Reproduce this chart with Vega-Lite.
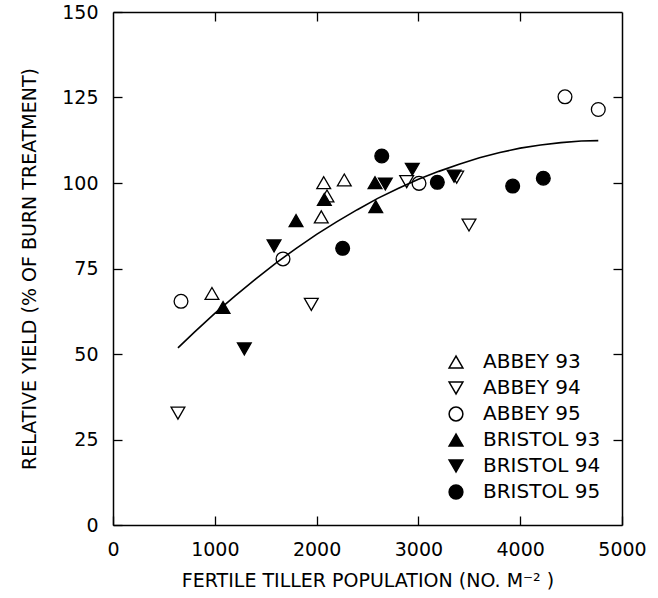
{
  "$schema": "https://vega.github.io/schema/vega-lite/v6.json",
  "width": 509,
  "height": 513,
  "autosize": {"type": "none"},
  "padding": {"left": 113, "top": 12, "right": 36, "bottom": 73},
  "background": "white",
  "config": {
    "view": {"stroke": null},
    "axis": {"domainColor": "black", "domainWidth": 1.5, "tickColor": "black", "tickWidth": 1.3, "labelColor": "black", "titleColor": "black", "labelFont": "DejaVu Sans", "titleFont": "DejaVu Sans", "grid": false}
  },
  "datasets": {
    "pts": [
      {"tillers": 972, "yield": 67.7, "series": "ABBEY 93"},
      {"tillers": 2070, "yield": 100.1, "series": "ABBEY 93"},
      {"tillers": 2272, "yield": 100.9, "series": "ABBEY 93"},
      {"tillers": 2046, "yield": 90.1, "series": "ABBEY 93"},
      {"tillers": 2102, "yield": 96.2, "series": "ABBEY 93"},
      {"tillers": 638, "yield": 32.7, "series": "ABBEY 94"},
      {"tillers": 1948, "yield": 64.5, "series": "ABBEY 94"},
      {"tillers": 2885, "yield": 100.4, "series": "ABBEY 94"},
      {"tillers": 3376, "yield": 101.7, "series": "ABBEY 94"},
      {"tillers": 3497, "yield": 87.7, "series": "ABBEY 94"},
      {"tillers": 668, "yield": 65.4, "series": "ABBEY 95"},
      {"tillers": 1670, "yield": 77.8, "series": "ABBEY 95"},
      {"tillers": 3006, "yield": 99.9, "series": "ABBEY 95"},
      {"tillers": 4440, "yield": 125.2, "series": "ABBEY 95"},
      {"tillers": 4767, "yield": 121.5, "series": "ABBEY 95"},
      {"tillers": 1081, "yield": 63.6, "series": "BRISTOL 93"},
      {"tillers": 1798, "yield": 89.0, "series": "BRISTOL 93"},
      {"tillers": 2076, "yield": 95.2, "series": "BRISTOL 93"},
      {"tillers": 2574, "yield": 100.1, "series": "BRISTOL 93"},
      {"tillers": 2581, "yield": 93.1, "series": "BRISTOL 93"},
      {"tillers": 1290, "yield": 51.5, "series": "BRISTOL 94"},
      {"tillers": 1582, "yield": 81.6, "series": "BRISTOL 94"},
      {"tillers": 2675, "yield": 99.7, "series": "BRISTOL 94"},
      {"tillers": 2940, "yield": 104.0, "series": "BRISTOL 94"},
      {"tillers": 3350, "yield": 102.0, "series": "BRISTOL 94"},
      {"tillers": 2256, "yield": 80.9, "series": "BRISTOL 95"},
      {"tillers": 2640, "yield": 107.9, "series": "BRISTOL 95"},
      {"tillers": 3186, "yield": 100.2, "series": "BRISTOL 95"},
      {"tillers": 3926, "yield": 99.1, "series": "BRISTOL 95"},
      {"tillers": 4227, "yield": 101.4, "series": "BRISTOL 95"}
    ],
    "curve": [
      {"tillers": 638, "yield": 51.8},
      {"tillers": 800, "yield": 56.4},
      {"tillers": 1000, "yield": 61.9},
      {"tillers": 1200, "yield": 67.0},
      {"tillers": 1400, "yield": 71.9},
      {"tillers": 1600, "yield": 76.6},
      {"tillers": 1800, "yield": 80.9},
      {"tillers": 2000, "yield": 85.0},
      {"tillers": 2200, "yield": 88.7},
      {"tillers": 2400, "yield": 92.2},
      {"tillers": 2600, "yield": 95.5},
      {"tillers": 2800, "yield": 98.4},
      {"tillers": 3000, "yield": 101.1},
      {"tillers": 3200, "yield": 103.4},
      {"tillers": 3400, "yield": 105.5},
      {"tillers": 3600, "yield": 107.4},
      {"tillers": 3800, "yield": 108.9},
      {"tillers": 4000, "yield": 110.2},
      {"tillers": 4200, "yield": 111.1},
      {"tillers": 4400, "yield": 111.8},
      {"tillers": 4600, "yield": 112.3},
      {"tillers": 4767, "yield": 112.4}
    ]
  },
  "layer": [
    {
      "data": {"name": "curve"},
      "mark": {"type": "line", "color": "black", "strokeWidth": 1.6},
      "encoding": {
        "x": {"field": "tillers", "type": "quantitative", "scale": {"domain": [0, 5000], "nice": false, "zero": false},
          "axis": {"orient": "top", "values": [1000, 2000, 3000, 4000], "labels": false, "title": null, "tickSize": -9}},
        "y": {"field": "yield", "type": "quantitative", "scale": {"domain": [0, 150], "nice": false},
          "axis": {"orient": "right", "values": [25, 50, 75, 100, 125], "labels": false, "title": null, "tickSize": -9}}
      }
    },
    {
      "data": {"name": "pts"},
      "mark": {"type": "point", "filled": false, "stroke": "black", "strokeWidth": 1.3, "size": 190, "opacity": 1},
      "encoding": {
        "x": {"field": "tillers", "type": "quantitative", "scale": {"domain": [0, 5000], "nice": false, "zero": false},
          "axis": {"orient": "bottom", "values": [0, 1000, 2000, 3000, 4000, 5000], "format": "d", "tickSize": -9, "labelPadding": 24, "labelFontSize": 19, "labelFlush": false,
            "title": "FERTILE TILLER POPULATION (NO. M⁻² )", "titleFontSize": 19, "titleFontWeight": "normal", "titlePadding": 12}},
        "y": {"field": "yield", "type": "quantitative", "scale": {"domain": [0, 150], "nice": false},
          "axis": {"orient": "left", "values": [0, 25, 50, 75, 100, 125, 150], "format": "d", "tickSize": -9, "labelPadding": 24, "labelFontSize": 19, "labelFlush": false,
            "title": "RELATIVE YIELD (% OF BURN TREATMENT)", "titleFontSize": 19, "titleFontWeight": "normal", "titlePadding": 22}},
        "shape": {"field": "series", "type": "nominal",
          "scale": {"domain": ["ABBEY 93", "ABBEY 94", "ABBEY 95", "BRISTOL 93", "BRISTOL 94", "BRISTOL 95"],
            "range": ["triangle-up", "triangle-down", "circle", "triangle-up", "triangle-down", "circle"]},
          "legend": {"title": null, "orient": "none", "legendX": 333, "legendY": 340, "labelFontSize": 20, "labelFont": "DejaVu Sans", "labelColor": "black", "symbolSize": 190, "rowPadding": 6, "labelOffset": 17, "padding": 0,
            "encode": {"symbols": {"update": {"stroke": {"value": "black"}, "strokeWidth": {"value": 1.3}}}}}},
        "fill": {"field": "series", "type": "nominal",
          "scale": {"domain": ["ABBEY 93", "ABBEY 94", "ABBEY 95", "BRISTOL 93", "BRISTOL 94", "BRISTOL 95"],
            "range": ["transparent", "transparent", "transparent", "black", "black", "black"]},
          "legend": {"title": null, "orient": "none", "legendX": 333, "legendY": 340, "labelFontSize": 20, "labelFont": "DejaVu Sans", "labelColor": "black", "symbolSize": 190, "rowPadding": 6, "labelOffset": 17, "padding": 0,
            "encode": {"symbols": {"update": {"stroke": {"value": "black"}, "strokeWidth": {"value": 1.3}}}}}}
      }
    }
  ],
  "resolve": {"axis": {"x": "independent", "y": "independent"}}
}
